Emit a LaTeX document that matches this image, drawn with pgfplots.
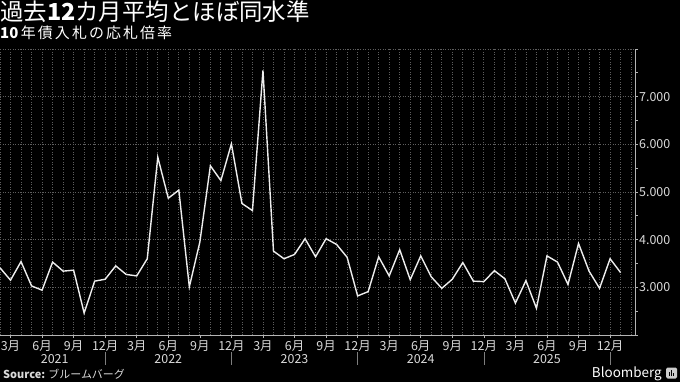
\documentclass[border=0pt]{standalone}
\usepackage{fontspec}
\usepackage{pgfplots}
\pgfplotsset{compat=1.18}
\setmainfont{Noto Sans CJK JP}
\definecolor{gridc}{HTML}{5E5E5E}
\definecolor{axc}{HTML}{B4B4B4}
\definecolor{txt}{HTML}{D9D9D9}
\definecolor{linec}{HTML}{EEEEEE}
\begin{document}
\begin{tikzpicture}[x=1bp,y=1bp]
\fill[black] (0,0) rectangle (680,382);
\path[use as bounding box] (0,0) rectangle (680,382);
\begin{axis}[at={(0bp,47bp)}, anchor=south west, width=635bp, height=286bp, scale only axis,
  xmin=0, xmax=60.37, ymin=2, ymax=8, clip=false,
  axis x line*=bottom, axis y line*=right,
  axis line style={draw=axc, line width=0.8bp, -},
  xtick={1,4,...,58},
  xticklabels={3月,6月,9月,12月,3月,6月,9月,12月,3月,6月,9月,12月,3月,6月,9月,12月,3月,6月,9月,12月},
  minor xtick={0,...,60},
  ytick={2,...,8}, yticklabels={,3.000,4.000,5.000,6.000,7.000,},
  minor ytick={2.5,3.5,...,7.5},
  xmajorgrids, xminorgrids, ymajorgrids,
  grid style={gridc, line width=0.8bp, dash pattern=on 1bp off 1.5bp},
  minor grid style={gridc, line width=0.8bp, dash pattern=on 1bp off 1.5bp},
  tick align=outside,
  major tick length=3bp, minor tick length=2.5bp,
  x tick style={draw=axc, line width=0.6bp},
  minor x tick style={draw=none},
  y tick style={draw=axc, line width=0.8bp},
  ticklabel style={font=\fontsize{12.5}{14}\selectfont, text=txt},
  xticklabel style={inner sep=1bp, yshift=-1bp},
  yticklabel style={inner sep=1bp, xshift=0bp},
]
\addplot[linec, line width=1.4bp] table {
x y
0 3.41
1 3.15
2 3.54
3 3.03
4 2.94
5 3.53
6 3.34
7 3.36
8 2.46
9 3.13
10 3.17
11 3.45
12 3.27
13 3.24
14 3.60
15 5.73
16 4.87
17 5.04
18 3.01
19 3.95
20 5.55
21 5.24
22 6.01
23 4.76
24 4.61
25 7.55
26 3.76
27 3.60
28 3.69
29 4.02
30 3.64
31 4.02
32 3.90
33 3.63
34 2.82
35 2.91
36 3.64
37 3.24
38 3.79
39 3.16
40 3.66
41 3.22
42 2.98
43 3.17
44 3.52
45 3.13
46 3.12
47 3.35
48 3.18
49 2.67
50 3.14
51 2.56
52 3.66
53 3.53
54 3.06
55 3.92
56 3.34
57 2.98
58 3.60
59 3.31
};
\node[text=txt, font=\fontsize{12.5}{14}\selectfont, yshift=-24bp] at (axis cs:5.2,2) {2021};
\node[text=txt, font=\fontsize{12.5}{14}\selectfont, yshift=-24bp] at (axis cs:16,2) {2022};
\node[text=txt, font=\fontsize{12.5}{14}\selectfont, yshift=-24bp] at (axis cs:28,2) {2023};
\node[text=txt, font=\fontsize{12.5}{14}\selectfont, yshift=-24bp] at (axis cs:40,2) {2024};
\node[text=txt, font=\fontsize{12.5}{14}\selectfont, yshift=-24bp] at (axis cs:52,2) {2025};
\draw[axc!70!black, line width=0.7bp] ([yshift=-17bp]axis cs:10,2) -- ([yshift=-30bp]axis cs:10,2);
\draw[axc!70!black, line width=0.7bp] ([yshift=-17bp]axis cs:22,2) -- ([yshift=-30bp]axis cs:22,2);
\draw[axc!70!black, line width=0.7bp] ([yshift=-17bp]axis cs:34,2) -- ([yshift=-30bp]axis cs:34,2);
\draw[axc!70!black, line width=0.7bp] ([yshift=-17bp]axis cs:46,2) -- ([yshift=-30bp]axis cs:46,2);
\draw[axc!70!black, line width=0.7bp] ([yshift=-17bp]axis cs:58,2) -- ([yshift=-30bp]axis cs:58,2);
\end{axis}
\node[anchor=base west, inner sep=0, text=white, font=\fontsize{23.5}{27}\selectfont] at (0,361.5) {過去\textbf{12}カ月平均とほぼ同水準};
\node[anchor=base west, inner sep=0, text=white, font=\fontsize{15}{18}\selectfont] at (0,343.7) {\textbf{10}\,{\addfontfeature{LetterSpace=14}年債入札の応札倍率}};
\node[anchor=base west, inner sep=0, text=txt, font=\fontsize{11}{13}\selectfont] at (3,4) {\textbf{Source:} ブルームバーグ};
\node[anchor=base east, inner sep=0, text=white, font=\fontsize{13.5}{16}\selectfont] at (662,5) {Bloomberg};
\fill[white!80!black, rounded corners=1.5bp] (666,3.5) rectangle (677,14.5);
\fill[black] (668.5,6) rectangle (669.5,10);
\fill[black] (670.8,6) rectangle (671.8,12);
\fill[black] (673.1,6) rectangle (674.1,9);
\end{tikzpicture}
\end{document}
